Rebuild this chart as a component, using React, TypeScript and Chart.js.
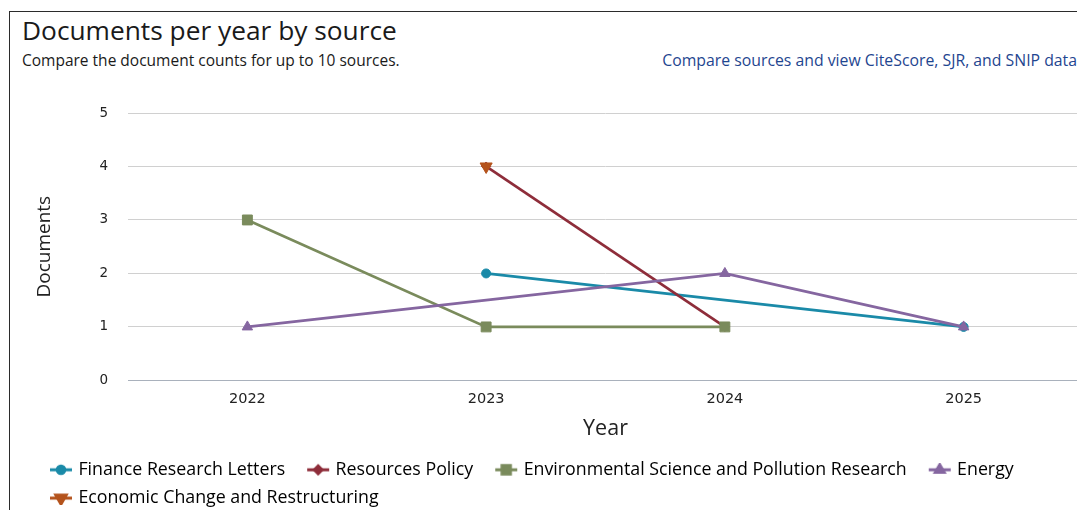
import React, { useEffect, useRef } from "react";
import { Chart, registerables } from "chart.js";
import { drawPoint } from "chart.js/helpers";

Chart.register(...registerables);

// ---- data ----
const years = ["2022", "2023", "2024", "2025"];
const sourceNames = [
  "Finance Research Letters",
  "Resources Policy",
  "Environmental Science and Pollution Research",
  "Energy",
  "Economic Change and Restructuring",
];
const financeResearchLetters = [null, 2, null, 1];
const resourcesPolicy = [null, 4, 1, null];
const environmentalScience = [3, 1, 1, null];
const energy = [1, null, 2, 1];
const economicChange = [null, 4, null, null];
const yTickMin = 0;
const yTickMax = 5;
const yTickStep = 1;

// ---- styles ----
const seriesValues = [financeResearchLetters, resourcesPolicy, environmentalScience, energy, economicChange];
const seriesColors = ["#1a8aa8", "#8e2d3a", "#7a8b5c", "#8566a0", "#b4531c"];
const seriesPointStyles = ["circle", "rectRot", "rect", "triangle", "triangle"];
const seriesPointRadius = [4.5, 4.5, 7, 6, 7];
const seriesRotation = [0, 0, 0, 0, 180];

function makeMarker(i: number): HTMLCanvasElement {
  const c = document.createElement("canvas");
  c.width = 40;
  c.height = 14;
  const ctx = c.getContext("2d")!;
  ctx.strokeStyle = seriesColors[i];
  ctx.fillStyle = seriesColors[i];
  ctx.lineWidth = 3;
  ctx.beginPath();
  ctx.moveTo(16, 7);
  ctx.lineTo(38, 7);
  ctx.stroke();
  drawPoint(
    ctx,
    {
      pointStyle: seriesPointStyles[i],
      radius: seriesPointRadius[i] * 0.85,
      rotation: seriesRotation[i],
      borderWidth: 1,
    } as any,
    27,
    7
  );
  return c;
}

export default function App() {
  const ref = useRef<HTMLCanvasElement>(null);

  useEffect(() => {
    if (!ref.current) return;
    const markers = sourceNames.map((_, i) => makeMarker(i));
    const chart = new Chart(ref.current, {
      type: "line",
      data: {
        labels: years,
        datasets: sourceNames.map((name, i) => ({
          label: name,
          data: seriesValues[i],
          borderColor: seriesColors[i],
          backgroundColor: seriesColors[i],
          pointBackgroundColor: seriesColors[i],
          pointBorderColor: seriesColors[i],
          pointStyle: seriesPointStyles[i] as any,
          pointRadius: seriesPointRadius[i],
          pointRotation: seriesRotation[i],
          pointBorderWidth: 1,
          borderWidth: 2.7,
          spanGaps: true,
          tension: 0,
          order: sourceNames.length - 1 - i,
        })),
      },
      options: {
        animation: false,
        responsive: false,
        layout: { padding: { left: 18, right: 2, top: 33, bottom: 3 } },
        plugins: {
          title: { display: false },
          tooltip: { enabled: false },
          legend: {
            position: "bottom",
            align: "start",
            labels: {
              usePointStyle: true,
              pointStyleWidth: 31,
              boxHeight: 14,
              padding: 10.5,
              color: "#222",
              font: { family: "'Open Sans', sans-serif", size: 17.8 },
              generateLabels: (ch: any) =>
                ch.data.datasets.map((ds: any, i: number) => ({
                  text: ds.label,
                  pointStyle: markers[i],
                  fillStyle: seriesColors[i],
                  strokeStyle: seriesColors[i],
                  lineWidth: 0,
                  hidden: !ch.isDatasetVisible(i),
                  datasetIndex: i,
                })),
            },
          },
        },
        scales: {
          x: {
            offset: true,
            grid: { display: false, drawTicks: false },
            border: { display: true, color: "#a9b1bc", width: 1 },
            ticks: {
              padding: 10,
              color: "#222",
              font: { family: "'DejaVu Sans', sans-serif", size: 14.5 },
            },
            title: {
              display: true,
              text: "Year",
              color: "#222",
              font: { family: "'Open Sans', sans-serif", size: 21.5 },
              padding: { top: 4, bottom: 8.5 },
            },
            afterFit: (s: any) => {
              s.height = 70;
            },
          },
          y: {
            min: yTickMin,
            max: yTickMax,
            grid: { color: "#d0d0d0", lineWidth: 1, drawTicks: false },
            border: { display: false },
            ticks: {
              stepSize: yTickStep,
              padding: 20,
              color: "#222",
              font: { family: "'DejaVu Sans', sans-serif", size: 13.5 },
            },
            title: {
              display: true,
              text: "Documents",
              color: "#222",
              font: { family: "'Open Sans', sans-serif", size: 19 },
              padding: { top: 4.8, bottom: 0 },
            },
            afterFit: (s: any) => {
              s.width = 100;
            },
          },
        },
      },
    });
    return () => chart.destroy();
  }, []);

  return (
    <div style={{ position: "relative", width: 1077, height: 502, overflow: "hidden" }}>
      <div
        style={{
          position: "absolute",
          left: 1,
          top: 3,
          width: 1120,
          height: 600,
          border: "1.5px solid #2b2b2b",
          boxSizing: "border-box",
        }}
      />
      <div
        style={{
          position: "absolute",
          left: 14,
          top: 6,
          fontFamily: "'Open Sans', sans-serif",
          fontSize: 26.3,
          lineHeight: "32px",
          color: "#1a1a1a",
          whiteSpace: "nowrap",
        }}
      >
        Documents per year by source
      </div>
      <div
        style={{
          position: "absolute",
          left: 14,
          top: 43,
          fontFamily: "'Open Sans', sans-serif",
          fontSize: 15.5,
          lineHeight: "18px",
          color: "#1a1a1a",
          whiteSpace: "nowrap",
        }}
      >
        Compare the document counts for up to 10 sources.
      </div>
      <div
        style={{
          position: "absolute",
          right: 8,
          top: 43,
          fontFamily: "'Open Sans', sans-serif",
          fontSize: 15.8,
          lineHeight: "18px",
          color: "#1f4690",
          whiteSpace: "nowrap",
        }}
      >
        Compare sources and view CiteScore, SJR, and SNIP data
      </div>
      <canvas
        ref={ref}
        width={1081}
        height={440}
        style={{ position: "absolute", left: 2, top: 72, width: 1081, height: 440 }}
      />
    </div>
  );
}
